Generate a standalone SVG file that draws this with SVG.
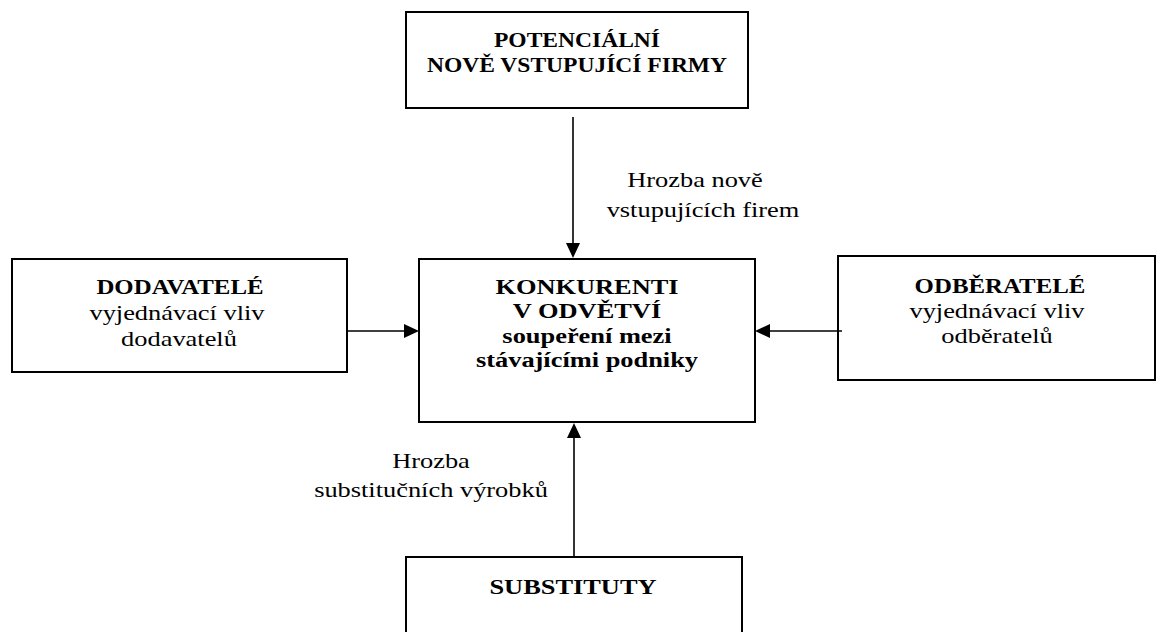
<svg xmlns="http://www.w3.org/2000/svg" width="1167" height="632" viewBox="0 0 1167 632">
<style>
.box{fill:#fff;stroke:#000;stroke-width:2}
.b{font-family:"Liberation Serif","Times New Roman",serif;font-weight:bold;font-size:22px;fill:#000;text-anchor:middle}
.r{font-family:"Liberation Serif","Times New Roman",serif;font-size:22px;fill:#000;text-anchor:middle}
.ln{stroke:#000;stroke-width:1.6}
</style>
<rect width="1167" height="632" fill="#fff"/>
<g id="entrants">
<rect class="box" x="406" y="12" width="342" height="96"/>
<text class="b" transform="scale(1.07 1)" x="539.25" y="47">POTENCIÁLNÍ</text>
<text class="b" transform="scale(1.07 1)" x="539.25" y="72">NOVĚ VSTUPUJÍCÍ FIRMY</text>
</g>
<g id="suppliers">
<rect class="box" x="12" y="259" width="335" height="113"/>
<text class="b" transform="scale(1.13 1)" x="159.29" y="294">DODAVATELÉ</text>
<text class="r" transform="scale(1.2 1)" x="147.5" y="320">vyjednávací vliv</text>
<text class="r" transform="scale(1.2 1)" x="149.17" y="346">dodavatelů</text>
</g>
<g id="competitors">
<rect class="box" x="419" y="259" width="336" height="163"/>
<text class="b" transform="scale(1.2 1)" x="489.17" y="294">KONKURENTI</text>
<text class="b" transform="scale(1.2 1)" x="489.17" y="318.5">V ODVĚTVÍ</text>
<text class="b" transform="scale(1.2 1)" x="489.17" y="343">soupeření mezi</text>
<text class="b" transform="scale(1.2 1)" x="489.17" y="367.5">stávajícími podniky</text>
</g>
<g id="buyers">
<rect class="box" x="838" y="256" width="317" height="124"/>
<text class="b" transform="scale(1.13 1)" x="884.96" y="293">ODBĚRATELÉ</text>
<text class="r" transform="scale(1.2 1)" x="830.83" y="318">vyjednávací vliv</text>
<text class="r" transform="scale(1.2 1)" x="830.83" y="343">odběratelů</text>
</g>
<g id="substitutes">
<rect class="box" x="406" y="557" width="336" height="90"/>
<text class="b" transform="scale(1.2 1)" x="477.5" y="594">SUBSTITUTY</text>
</g>
<g id="connectors">
<line class="ln" x1="573" y1="117" x2="573" y2="245"/>
<path d="M566,243 L580,243 L573,258 z" fill="#000"/>
<line class="ln" x1="347" y1="331" x2="406" y2="331"/>
<path d="M404,324 L419,331 L404,338 z" fill="#000"/>
<line class="ln" x1="842" y1="331" x2="768" y2="331"/>
<path d="M770,324 L755,331 L770,338 z" fill="#000"/>
<line class="ln" x1="574" y1="557" x2="574" y2="436"/>
<path d="M567,438 L574,423 L581,438 z" fill="#000"/>
<text class="r" transform="scale(1.2 1)" x="579.17" y="187">Hrozba nově</text>
<text class="r" transform="scale(1.2 1)" x="585.83" y="217">vstupujících firem</text>
<text class="r" transform="scale(1.2 1)" x="359.17" y="468">Hrozba</text>
<text class="r" transform="scale(1.2 1)" x="359.17" y="497">substitučních výrobků</text>
</g>
</svg>
